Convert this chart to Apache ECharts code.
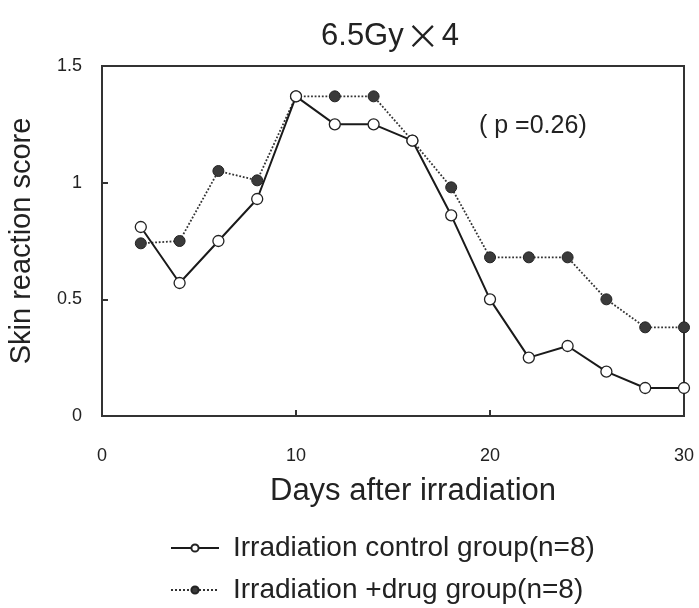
<!DOCTYPE html>
<html>
<head>
<meta charset="utf-8">
<script src="https://cdn.jsdelivr.net/npm/echarts@6/dist/echarts.min.js"></script>
<style>
  html, body { margin: 0; padding: 0; background: #fff; }
  #chart { width: 699px; height: 608px; }
</style>
</head>
<body>
<div id="chart"></div>
<script>
// days after irradiation
const days = [2, 4, 6, 8, 10, 12, 14, 16, 18, 20, 22, 24, 26, 28, 30];
// skin reaction score
const controlScores = [0.81, 0.57, 0.75, 0.93, 1.37, 1.25, 1.25, 1.18, 0.86, 0.50, 0.25, 0.30, 0.19, 0.12, 0.12];
const drugScores = [0.74, 0.75, 1.05, 1.01, 1.37, 1.37, 1.37, 1.18, 0.98, 0.68, 0.68, 0.68, 0.50, 0.38, 0.38];
const seriesNames = ["Irradiation control group(n=8)", "Irradiation +drug group(n=8)"];
const yTicks = [0, 0.5, 1, 1.5];

const font = "Liberation Sans";
const chart = echarts.init(document.getElementById("chart"));

const toPairs = (xs, ys) => xs.map((x, i) => [x, ys[i]]);

// one legend per row so the two rows sit exactly under each other
const legendRow = (name, top) => ({
  orient: "vertical",
  left: 170,
  top: top,
  padding: 0,
  itemWidth: 48,
  itemHeight: 9,
  textStyle: { fontFamily: font, fontSize: 28, color: "#222", padding: [0, 0, 0, 9] },
  data: [name]
});

chart.setOption({
  animation: false,
  textStyle: { fontFamily: font },
  title: {
    text: "6.5Gy{x|×}4",
    left: 385,
    textAlign: "center",
    top: 14,
    textStyle: {
      fontFamily: font, fontSize: 31, fontWeight: "normal", color: "#222",
      rich: { x: { fontFamily: "Noto Sans CJK JP", fontSize: 34, color: "#222", padding: [0, 2, 0, 2] } }
    }
  },
  grid: {
    left: 102, right: 15, top: 66, bottom: 192,
    outerBoundsMode: "none",
    show: true, borderColor: "#333", borderWidth: 2
  },
  legend: [legendRow(seriesNames[0], 534), legendRow(seriesNames[1], 576)],
  xAxis: {
    type: "value",
    min: 0, max: 30, interval: 10,
    name: "Days after irradiation",
    nameLocation: "middle",
    nameGap: 60,
    nameTextStyle: { fontFamily: font, fontSize: 31, color: "#222", padding: [0, 0, 0, 40] },
    axisLine: { show: true, lineStyle: { color: "#333", width: 2 } },
    axisTick: { show: true, inside: true, length: 6, lineStyle: { color: "#333", width: 2 } },
    axisLabel: { fontSize: 18, color: "#222", margin: 31 },
    splitLine: { show: false }
  },
  yAxis: {
    type: "value",
    min: 0, max: 1.5, interval: 0.5,
    name: "Skin reaction score",
    nameLocation: "middle",
    nameGap: 66,
    nameTextStyle: { fontFamily: font, fontSize: 29, color: "#222" },
    axisLine: { show: true, lineStyle: { color: "#333", width: 2 } },
    axisTick: { show: true, inside: true, length: 6, lineStyle: { color: "#333", width: 2 } },
    axisLabel: {
      fontSize: 18, color: "#222", margin: 20,
      formatter: v => (yTicks.indexOf(v) >= 0 ? String(v) : "")
    },
    splitLine: { show: false }
  },
  graphic: [{
    type: "text",
    left: 479,
    top: 114,
    style: { text: "( p =0.26)", fontFamily: font, fontSize: 25, fill: "#222" }
  }],
  series: [
    {
      name: seriesNames[0],
      type: "line",
      data: toPairs(days, controlScores),
      clip: false,
      symbol: "circle",
      symbolSize: 11,
      lineStyle: { color: "#1a1a1a", width: 2, type: "solid" },
      itemStyle: { color: "#fff", borderColor: "#222", borderWidth: 1.3 },
      z: 3
    },
    {
      name: seriesNames[1],
      type: "line",
      data: toPairs(days, drugScores),
      clip: false,
      symbol: "circle",
      symbolSize: 11,
      lineStyle: { color: "#333", width: 1.8, type: "dotted" },
      itemStyle: { color: "#3a3a3a", borderColor: "#222", borderWidth: 1 },
      z: 2
    }
  ]
});
</script>
</body>
</html>
